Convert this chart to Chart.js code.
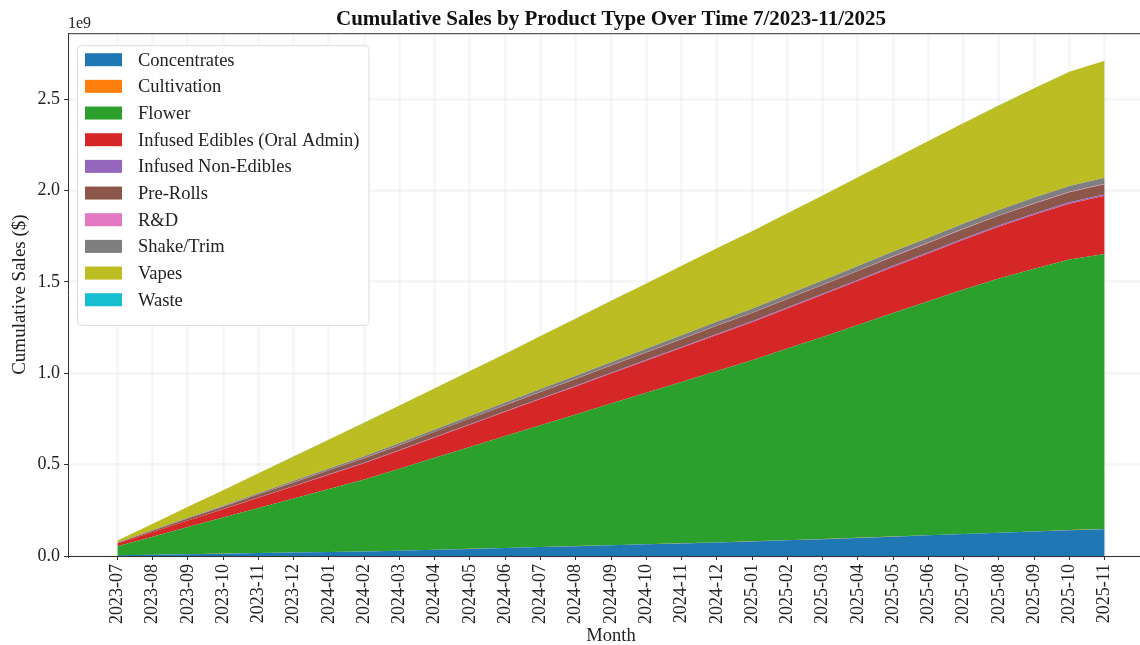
<!DOCTYPE html>
<html>
<head>
<meta charset="utf-8">
<title>Cumulative Sales by Product Type</title>
<script src="https://cdn.jsdelivr.net/npm/chart.js@4.4.1/dist/chart.umd.min.js"></script>
<style>
  html, body { margin: 0; padding: 0; background: #fff; overflow: hidden; }
  #wrap { width: 1160px; height: 645px; }
</style>
</head>
<body>
<div id="wrap"><canvas id="salesChart" width="1160" height="645"></canvas></div>
<script>
const months = [
    '2023-07', '2023-08', '2023-09', '2023-10', '2023-11', '2023-12',
    '2024-01', '2024-02', '2024-03', '2024-04', '2024-05', '2024-06',
    '2024-07', '2024-08', '2024-09', '2024-10', '2024-11', '2024-12',
    '2025-01', '2025-02', '2025-03', '2025-04', '2025-05', '2025-06',
    '2025-07', '2025-08', '2025-09', '2025-10', '2025-11'
];

// cumulative sales per product type, millions of $
const concentrates = [4, 7, 10, 13, 16, 19, 22, 25, 29, 34, 39, 44, 49, 54, 59, 64, 69, 74, 80, 86, 92, 99, 106, 113, 120, 127, 134, 141, 147];
const cultivation = [0.0, 0.0, 0.1, 0.1, 0.1, 0.1, 0.2, 0.2, 0.2, 0.2, 0.3, 0.3, 0.3, 0.3, 0.4, 0.4, 0.4, 0.4, 0.5, 0.5, 0.5, 0.5, 0.6, 0.6, 0.6, 0.6, 0.7, 0.7, 0.7];
const flower = [50, 99, 148, 197, 246, 295, 344, 393, 448, 503, 557, 612, 666, 720, 775, 829, 883, 938, 991, 1049, 1107, 1165, 1224, 1281, 1338, 1391, 1438, 1481, 1506];
const infusedEdibles = [14, 25, 36, 46, 57, 68, 79, 90, 100, 111, 122, 133, 144, 154, 165, 176, 187, 198, 208, 219, 230, 241, 252, 262, 273, 284, 295, 306, 318];
const infusedNonEdibles = [0.3, 0.6, 0.8, 1.1, 1.4, 1.6, 1.9, 2.2, 2.5, 2.7, 3.0, 3.3, 3.5, 3.8, 4.1, 4.3, 4.6, 4.9, 5.1, 5.4, 5.7, 5.9, 6.2, 6.5, 6.8, 7.0, 7.3, 7.6, 7.8];
const preRolls = [4, 7, 10, 13, 16, 19, 22, 25, 27, 29, 31, 33, 35, 37, 39, 41, 43, 45, 46, 47, 48, 49, 50, 51, 52, 53, 54, 55, 56];
const rnd = [0.2, 0.3, 0.3, 0.4, 0.5, 0.6, 0.6, 0.7, 0.8, 0.8, 0.9, 1.0, 1.0, 1.1, 1.2, 1.3, 1.3, 1.4, 1.5, 1.5, 1.6, 1.7, 1.7, 1.8, 1.9, 2.0, 2.0, 2.1, 2.2];
const shakeTrim = [2, 3, 4, 5, 6, 8, 9, 10, 11, 12, 13, 14, 15, 16, 17, 19, 20, 21, 22, 23, 24, 25, 26, 27, 28, 30, 31, 32, 33];
const vapes = [10, 35, 60, 85, 110, 134, 159, 184, 205, 225, 247, 267, 290, 314, 336, 357, 380, 402, 424, 445, 465, 486, 507, 529, 550, 572, 598, 625, 640];
const waste = [0.0, 0.0, 0.0, 0.0, 0.1, 0.1, 0.1, 0.1, 0.1, 0.1, 0.1, 0.1, 0.1, 0.2, 0.2, 0.2, 0.2, 0.2, 0.2, 0.2, 0.2, 0.2, 0.3, 0.3, 0.3, 0.3, 0.3, 0.3, 0.3];

const seriesNames = ['Concentrates', 'Cultivation', 'Flower', 'Infused Edibles (Oral Admin)', 'Infused Non-Edibles',
    'Pre-Rolls', 'R&D', 'Shake/Trim', 'Vapes', 'Waste'];
const seriesData = [concentrates, cultivation, flower, infusedEdibles, infusedNonEdibles,
    preRolls, rnd, shakeTrim, vapes, waste];
const colors = ['#1f77b4', '#ff7f0e', '#2ca02c', '#d62728', '#9467bd',
    '#8c564b', '#e377c2', '#7f7f7f', '#bcbd22', '#17becf'];

const serif = '"Liberation Serif", "Times New Roman", serif';

const datasets = seriesNames.map((name, k) => ({
    label: name,
    data: seriesData[k].map((v, i) => ({ x: i, y: v })),
    backgroundColor: colors[k],
    borderColor: 'rgba(0,0,0,0)',
    borderWidth: 0,
    pointRadius: 0,
    tension: 0,
    fill: k === 0 ? 'origin' : '-1'
}));

// top spine, 1e9 offset text and the boxed legend inside the axes
const extras = {
    id: 'extras',
    afterDraw(chart) {
        const { ctx, chartArea: a } = chart;
        ctx.save();
        ctx.strokeStyle = '#333';
        ctx.lineWidth = 1;
        ctx.beginPath();
        ctx.moveTo(a.left, a.top + 0.5);
        ctx.lineTo(a.right, a.top + 0.5);
        ctx.stroke();

        ctx.fillStyle = '#222';
        ctx.font = '16px ' + serif;
        ctx.textBaseline = 'bottom';
        ctx.textAlign = 'left';
        ctx.fillText('1e9', a.left, a.top - 1);

        ctx.font = '18.5px ' + serif;
        const names = chart.data.datasets.map(d => d.label);
        const maxW = Math.max(...names.map(n => ctx.measureText(n).width));
        const bx = a.left + 9, by = a.top + 12;
        const textX = bx + 61;
        const bw = textX - bx + maxW + 9;
        const rowH = 26.67;
        const bh = 14 + rowH * names.length - 1;
        ctx.beginPath();
        ctx.roundRect(bx + 0.5, by + 0.5, bw, bh, 4);
        ctx.fillStyle = 'rgba(255,255,255,0.85)';
        ctx.fill();
        ctx.strokeStyle = '#dcdcdc';
        ctx.stroke();
        ctx.textBaseline = 'middle';
        chart.data.datasets.forEach((d, i) => {
            const cy = by + 14.5 + i * rowH;
            ctx.fillStyle = d.backgroundColor;
            ctx.fillRect(bx + 8, cy - 6.5, 37, 13);
            ctx.fillStyle = '#222';
            ctx.fillText(d.label, textX, cy + 1);
        });
        ctx.restore();
    }
};

const gridColor = 'rgba(176,176,176,0.1)';

new Chart(document.getElementById('salesChart'), {
    type: 'line',
    data: { datasets },
    plugins: [extras],
    options: {
        responsive: false,
        animation: false,
        layout: { padding: { left: 0, right: 6, top: 0, bottom: 0 } },
        plugins: {
            legend: { display: false },
            tooltip: { enabled: false },
            title: {
                display: true,
                fullSize: false,
                text: 'Cumulative Sales by Product Type Over Time 7/2023-11/2025',
                color: '#111',
                font: { family: serif, size: 21, weight: 'bold' },
                padding: { top: 7, bottom: 1 }
            }
        },
        scales: {
            x: {
                type: 'linear',
                min: -1.4,
                max: 29.4,
                z: 1,
                afterBuildTicks: axis => {
                    axis.ticks = months.map((m, i) => ({ value: i }));
                },
                afterFit: scale => { scale.height = 89; },
                ticks: {
                    autoSkip: false,
                    maxRotation: 90,
                    minRotation: 90,
                    padding: 4,
                    color: '#222',
                    font: { family: serif, size: 18 },
                    callback: v => months[v]
                },
                grid: {
                    color: gridColor,
                    lineWidth: 3,
                    tickColor: '#333',
                    tickWidth: 1,
                    tickLength: 4
                },
                border: { color: '#333', width: 1 },
                title: {
                    display: true,
                    text: 'Month',
                    color: '#222',
                    font: { family: serif, size: 18.5, lineHeight: 1 },
                    padding: { top: 0, bottom: 0 }
                }
            },
            y: {
                stacked: true,
                min: 0,
                max: 2862,
                z: 1,
                afterBuildTicks: axis => {
                    axis.ticks = [0, 500, 1000, 1500, 2000, 2500].map(v => ({ value: v }));
                },
                afterFit: scale => { scale.width = 68; },
                ticks: {
                    padding: 4,
                    color: '#222',
                    font: { family: serif, size: 18 },
                    callback: v => (v / 1000).toFixed(1)
                },
                grid: {
                    color: gridColor,
                    lineWidth: 3,
                    tickColor: '#333',
                    tickWidth: 1,
                    tickLength: 4
                },
                border: { color: '#333', width: 1 },
                title: {
                    display: true,
                    text: 'Cumulative Sales ($)',
                    color: '#222',
                    font: { family: serif, size: 19 },
                    padding: { top: 9, bottom: 0 }
                }
            }
        }
    }
});
</script>
</body>
</html>
